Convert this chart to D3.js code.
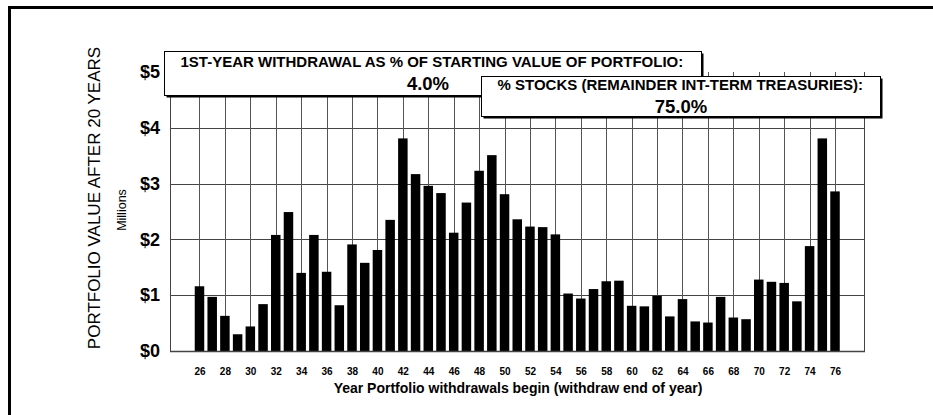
<!DOCTYPE html>
<html>
<head>
<meta charset="utf-8">
<script src="https://cdn.jsdelivr.net/npm/d3@7"></script>
<style>
  body { margin: 0; background: #fff; }
  svg { font-family: Arial, "Liberation Sans", sans-serif; }
</style>
</head>
<body>
<div id="chart"></div>
<script>
// start years (19xx) and portfolio value after 20 years, $ millions
var years = [26, 27, 28, 29, 30, 31, 32, 33, 34, 35, 36, 37, 38, 39, 40, 41, 42, 43, 44, 45,
             46, 47, 48, 49, 50, 51, 52, 53, 54, 55, 56, 57, 58, 59, 60, 61, 62, 63, 64, 65,
             66, 67, 68, 69, 70, 71, 72, 73, 74, 75, 76];
var values = [1.16, 0.97, 0.63, 0.30, 0.44, 0.84, 2.08, 2.49, 1.40, 2.08, 1.42, 0.82, 1.91, 1.58, 1.81, 2.35, 3.81, 3.17, 2.96, 2.83,
              2.12, 2.66, 3.23, 3.51, 2.81, 2.36, 2.23, 2.22, 2.09, 1.03, 0.94, 1.11, 1.25, 1.26, 0.81, 0.80, 0.99, 0.62, 0.93, 0.53,
              0.51, 0.97, 0.60, 0.57, 1.28, 1.24, 1.22, 0.89, 1.88, 3.81, 2.86];
var yTicks = [0, 1, 2, 3, 4, 5];
var xTicks = [26, 28, 30, 32, 34, 36, 38, 40, 42, 44, 46, 48, 50, 52, 54, 56, 58, 60, 62, 64, 66, 68, 70, 72, 74, 76];

var withdrawalLabel = "1ST-YEAR WITHDRAWAL AS % OF STARTING VALUE OF PORTFOLIO:";
var withdrawalValue = "4.0%";
var stocksLabel = "% STOCKS (REMAINDER INT-TERM TREASURIES):";
var stocksValue = "75.0%";

var W = 933, H = 415;
var plot = {left: 170, right: 864, top: 72, bottom: 351};

var svg = d3.select("#chart").append("svg")
    .attr("width", W)
    .attr("height", H);

// outer frame (top + left edges visible)
svg.append("line").attr("x1", 8).attr("x2", W).attr("y1", 7.5).attr("y2", 7.5)
    .attr("stroke", "#000").attr("stroke-width", 3);
svg.append("line").attr("x1", 9.5).attr("x2", 9.5).attr("y1", 6).attr("y2", H)
    .attr("stroke", "#000").attr("stroke-width", 3);

var x = d3.scaleLinear().domain([23.68, 78.28]).range([plot.left, plot.right]);
var y = d3.scaleLinear().domain([0, 5]).range([plot.bottom, plot.top]);
var barW = 9.5;

var data = years.map(function(yr, i) { return {year: yr, value: values[i]}; });

// horizontal grid
svg.append("g").selectAll("line")
    .data(yTicks.filter(function(d) { return d > 0 && d < 5; }))
  .enter().append("line")
    .attr("x1", plot.left).attr("x2", plot.right)
    .attr("y1", function(d) { return Math.round(y(d)) + 0.5; })
    .attr("y2", function(d) { return Math.round(y(d)) + 0.5; })
    .attr("stroke", "#444").attr("stroke-width", 1);

// vertical grid at labelled years
svg.append("g").selectAll("line")
    .data(xTicks)
  .enter().append("line")
    .attr("x1", function(d) { return Math.round(x(d)) + 0.5; })
    .attr("x2", function(d) { return Math.round(x(d)) + 0.5; })
    .attr("y1", plot.top).attr("y2", plot.bottom)
    .attr("stroke", "#555").attr("stroke-width", 1);

// plot edges
svg.append("line").attr("x1", plot.left + 0.5).attr("x2", plot.left + 0.5)
    .attr("y1", plot.top).attr("y2", plot.bottom).attr("stroke", "#444");
svg.append("line").attr("x1", plot.right + 0.5).attr("x2", plot.right + 0.5)
    .attr("y1", plot.top).attr("y2", plot.bottom).attr("stroke", "#444");

// bars
svg.append("g").selectAll("rect")
    .data(data)
  .enter().append("rect")
    .attr("x", function(d) { return x(d.year) - barW / 2; })
    .attr("y", function(d) { return y(d.value); })
    .attr("width", barW)
    .attr("height", function(d) { return y(0) - y(d.value); })
    .attr("fill", "#000");

// baseline
svg.append("line").attr("x1", plot.left).attr("x2", plot.right + 1)
    .attr("y1", plot.bottom + 0.5).attr("y2", plot.bottom + 0.5)
    .attr("stroke", "#444").attr("stroke-width", 1.5);

// y axis
var yAxis = svg.append("g")
    .attr("transform", "translate(" + plot.left + ",0)")
    .call(d3.axisLeft(y).tickValues(yTicks).tickSize(0).tickPadding(10)
        .tickFormat(function(d) { return "$" + d; }));
yAxis.select(".domain").remove();
yAxis.selectAll("text")
    .style("font-family", "Arial, 'Liberation Sans', sans-serif")
    .style("font-size", "18px")
    .style("font-weight", "bold")
    .attr("fill", "#000");

// x axis
var xAxis = svg.append("g")
    .attr("transform", "translate(0," + plot.bottom + ")")
    .call(d3.axisBottom(x).tickValues(xTicks).tickSize(0).tickPadding(17)
        .tickFormat(function(d) { return d; }));
xAxis.select(".domain").remove();
xAxis.selectAll("text")
    .style("font-family", "Arial, 'Liberation Sans', sans-serif")
    .style("font-size", "10px")
    .style("font-weight", "bold")
    .attr("fill", "#000");

// axis titles
svg.append("text")
    .attr("transform", "rotate(-90)")
    .attr("x", -198)
    .attr("y", 100)
    .attr("text-anchor", "middle")
    .style("font-size", "17px")
    .text("PORTFOLIO VALUE AFTER 20 YEARS");

svg.append("text")
    .attr("transform", "rotate(-90)")
    .attr("x", -210)
    .attr("y", 126)
    .attr("text-anchor", "middle")
    .style("font-size", "12.5px")
    .text("Millions");

svg.append("text")
    .attr("x", 518)
    .attr("y", 393)
    .attr("text-anchor", "middle")
    .style("font-size", "14px")
    .style("font-weight", "bold")
    .text("Year Portfolio withdrawals begin (withdraw end of year)");

// input boxes
function inputBox(bx, by, bw, bh, label, labelDy, value, valueX, valueDy) {
	var g = svg.append("g");
	g.append("rect")
		.attr("x", bx + 2).attr("y", by + 2)
		.attr("width", bw).attr("height", bh)
		.attr("fill", "#000");
	g.append("rect")
		.attr("x", bx).attr("y", by)
		.attr("width", bw).attr("height", bh)
		.attr("fill", "#fff")
		.attr("stroke", "#000")
		.attr("stroke-width", 1);
	g.append("text")
		.attr("x", bx + 16)
		.attr("y", by + labelDy)
		.style("font-size", "15px")
		.style("font-weight", "bold")
		.text(label);
	g.append("text")
		.attr("x", valueX)
		.attr("y", by + valueDy)
		.attr("text-anchor", "middle")
		.style("font-size", "18.5px")
		.style("font-weight", "bold")
		.text(value);
}

inputBox(164.5, 51.5, 537, 44, withdrawalLabel, 15.5, withdrawalValue, 428, 38.5);
inputBox(481.5, 76.5, 399, 40, stocksLabel, 13, stocksValue, 681, 36.5);
</script>
</body>
</html>
